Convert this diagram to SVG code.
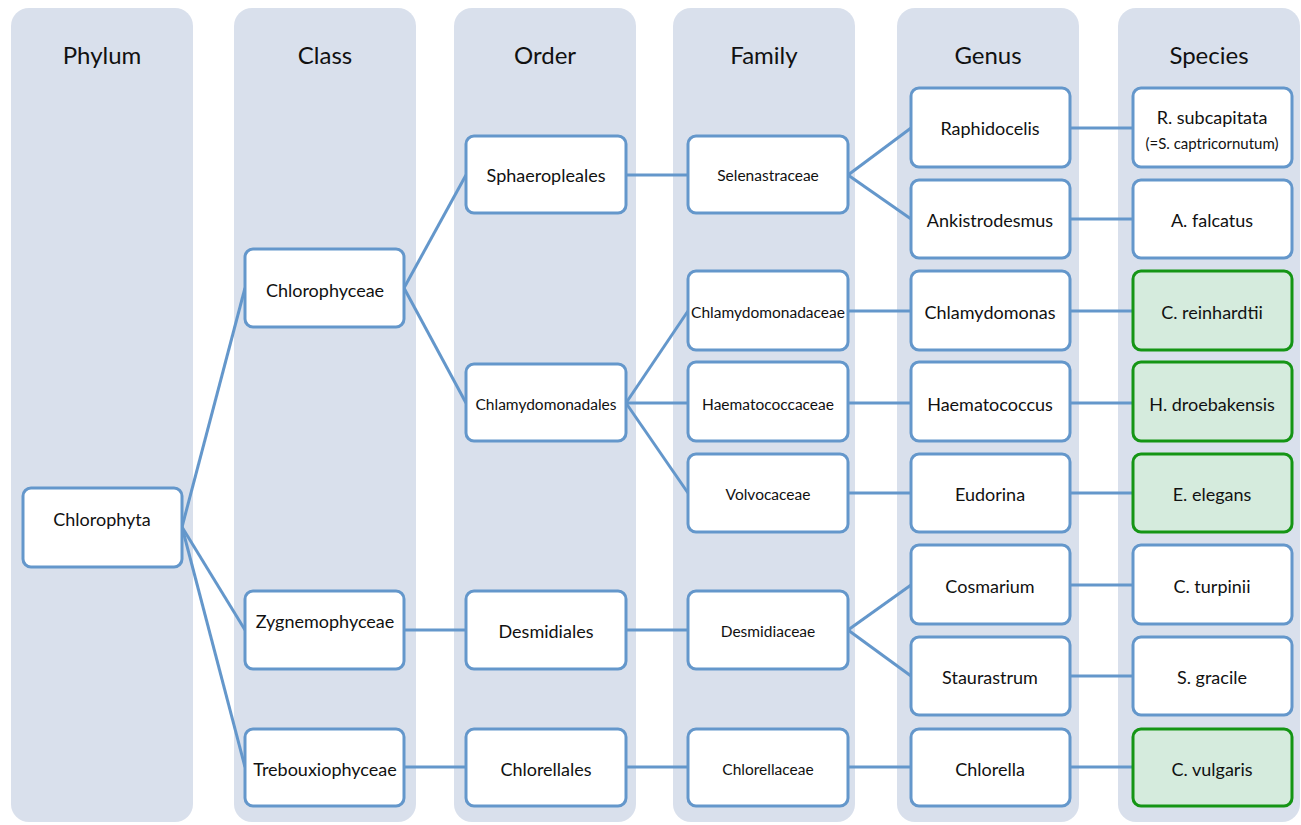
<svg xmlns="http://www.w3.org/2000/svg" width="1301" height="825" viewBox="0 0 1301 825">
<style>
.col{fill:#d9e0ec;}
.hd{font-family:Lato,"Open Sans",sans-serif;font-size:24px;fill:#111;text-anchor:middle;}
.nd rect{fill:#fff;stroke:#6497cb;stroke-width:3;}
.nd.g rect{fill:#d5ebdd;stroke:#159515;}
.nd text{font-family:Lato,"Open Sans",sans-serif;font-size:18px;fill:#111;text-anchor:middle;}
.nd text.s{font-size:15.5px;}
.nd text.xs{font-size:15px;}
.cn line{stroke:#6497cb;stroke-width:3;}
</style>
<g id="columns">
<rect class="col" x="11" y="8" width="182" height="814" rx="18"/>
<rect class="col" x="234" y="8" width="182" height="814" rx="18"/>
<rect class="col" x="454" y="8" width="182" height="814" rx="18"/>
<rect class="col" x="673" y="8" width="182" height="814" rx="18"/>
<rect class="col" x="897" y="8" width="182" height="814" rx="18"/>
<rect class="col" x="1118" y="8" width="182" height="814" rx="18"/>
<text class="hd" x="102" y="64">Phylum</text>
<text class="hd" x="325" y="64">Class</text>
<text class="hd" x="545" y="64">Order</text>
<text class="hd" x="764" y="64">Family</text>
<text class="hd" x="988" y="64">Genus</text>
<text class="hd" x="1209" y="64">Species</text>
</g>
<g class="cn" id="connectors">
<line x1="182" y1="527" x2="245" y2="288"/>
<line x1="182" y1="527" x2="245" y2="630"/>
<line x1="182" y1="527" x2="245" y2="767"/>
<line x1="404" y1="288" x2="466" y2="175"/>
<line x1="404" y1="288" x2="466" y2="403"/>
<line x1="404" y1="630" x2="466" y2="630"/>
<line x1="404" y1="767" x2="466" y2="767"/>
<line x1="626" y1="175" x2="688" y2="175"/>
<line x1="626" y1="403" x2="688" y2="311"/>
<line x1="626" y1="403" x2="688" y2="403"/>
<line x1="626" y1="403" x2="688" y2="493"/>
<line x1="626" y1="630" x2="688" y2="630"/>
<line x1="626" y1="767" x2="688" y2="767"/>
<line x1="848" y1="175" x2="911" y2="128"/>
<line x1="848" y1="175" x2="911" y2="219"/>
<line x1="848" y1="311" x2="911" y2="311"/>
<line x1="848" y1="403" x2="911" y2="403"/>
<line x1="848" y1="493" x2="911" y2="493"/>
<line x1="848" y1="630" x2="911" y2="585"/>
<line x1="848" y1="630" x2="911" y2="676"/>
<line x1="848" y1="767" x2="911" y2="767"/>
<line x1="1070" y1="128" x2="1133" y2="128"/>
<line x1="1070" y1="219" x2="1133" y2="219"/>
<line x1="1070" y1="311" x2="1133" y2="311"/>
<line x1="1070" y1="403" x2="1133" y2="403"/>
<line x1="1070" y1="493" x2="1133" y2="493"/>
<line x1="1070" y1="585" x2="1133" y2="585"/>
<line x1="1070" y1="676" x2="1133" y2="676"/>
<line x1="1070" y1="767" x2="1133" y2="767"/>
</g>
<g class="nd" id="chlorophyta"><rect x="23" y="488" width="159" height="79" rx="8"/><text x="102" y="525.5">Chlorophyta</text></g>
<g class="nd" id="chlorophyceae"><rect x="245" y="249" width="159" height="78" rx="8"/><text x="325" y="296.5">Chlorophyceae</text></g>
<g class="nd" id="zygnemophyceae"><rect x="245" y="591" width="159" height="78" rx="8"/><text x="325" y="627.5">Zygnemophyceae</text></g>
<g class="nd" id="trebouxiophyceae"><rect x="245" y="729" width="159" height="77" rx="8"/><text x="325" y="775.5">Trebouxiophyceae</text></g>
<g class="nd" id="sphaeropleales"><rect x="466" y="136" width="160" height="77" rx="8"/><text x="546" y="181.5">Sphaeropleales</text></g>
<g class="nd" id="chlamydomonadales"><rect x="466" y="364" width="160" height="77" rx="8"/><text class="s" x="546" y="409.5">Chlamydomonadales</text></g>
<g class="nd" id="desmidiales"><rect x="466" y="591" width="160" height="78" rx="8"/><text x="546" y="637.5">Desmidiales</text></g>
<g class="nd" id="chlorellales"><rect x="466" y="729" width="160" height="77" rx="8"/><text x="546" y="775.5">Chlorellales</text></g>
<g class="nd" id="selenastraceae"><rect x="688" y="136" width="160" height="77" rx="8"/><text class="s" x="768" y="180.5">Selenastraceae</text></g>
<g class="nd" id="chlamydomonadaceae"><rect x="688" y="271" width="160" height="79" rx="8"/><text class="s" x="768" y="317.5">Chlamydomonadaceae</text></g>
<g class="nd" id="haematococcaceae"><rect x="688" y="362" width="160" height="79" rx="8"/><text class="s" x="768" y="409.5">Haematococcaceae</text></g>
<g class="nd" id="volvocaceae"><rect x="688" y="454" width="160" height="78" rx="8"/><text class="s" x="768" y="499.5">Volvocaceae</text></g>
<g class="nd" id="desmidiaceae"><rect x="688" y="591" width="160" height="78" rx="8"/><text class="s" x="768" y="636.5">Desmidiaceae</text></g>
<g class="nd" id="chlorellaceae"><rect x="688" y="729" width="160" height="77" rx="8"/><text class="s" x="768" y="774.5">Chlorellaceae</text></g>
<g class="nd" id="raphidocelis"><rect x="911" y="88" width="159" height="79" rx="8"/><text x="990" y="134.5">Raphidocelis</text></g>
<g class="nd" id="ankistrodesmus"><rect x="911" y="180" width="159" height="78" rx="8"/><text x="990" y="226.5">Ankistrodesmus</text></g>
<g class="nd" id="chlamydomonas"><rect x="911" y="271" width="159" height="79" rx="8"/><text x="990" y="318.5">Chlamydomonas</text></g>
<g class="nd" id="haematococcus"><rect x="911" y="362" width="159" height="79" rx="8"/><text x="990" y="410.5">Haematococcus</text></g>
<g class="nd" id="eudorina"><rect x="911" y="454" width="159" height="78" rx="8"/><text x="990" y="500.5">Eudorina</text></g>
<g class="nd" id="cosmarium"><rect x="911" y="545" width="159" height="79" rx="8"/><text x="990" y="592.5">Cosmarium</text></g>
<g class="nd" id="staurastrum"><rect x="911" y="637" width="159" height="78" rx="8"/><text x="990" y="683.5">Staurastrum</text></g>
<g class="nd" id="chlorella"><rect x="911" y="729" width="159" height="77" rx="8"/><text x="990" y="775.5">Chlorella</text></g>
<g class="nd" id="r-subcapitata"><rect x="1133" y="88" width="159" height="79" rx="8"/><text x="1212" y="123.5">R. subcapitata</text><text class="xs" x="1212" y="148.5">(=S. captricornutum)</text></g>
<g class="nd" id="a-falcatus"><rect x="1133" y="180" width="159" height="78" rx="8"/><text x="1212" y="226.5">A. falcatus</text></g>
<g class="nd g" id="c-reinhardtii"><rect x="1133" y="271" width="159" height="79" rx="8"/><text x="1212" y="318.5">C. reinhardtii</text></g>
<g class="nd g" id="h-droebakensis"><rect x="1133" y="362" width="159" height="79" rx="8"/><text x="1212" y="410.5">H. droebakensis</text></g>
<g class="nd g" id="e-elegans"><rect x="1133" y="454" width="159" height="78" rx="8"/><text x="1212" y="500.5">E. elegans</text></g>
<g class="nd" id="c-turpinii"><rect x="1133" y="545" width="159" height="79" rx="8"/><text x="1212" y="592.5">C. turpinii</text></g>
<g class="nd" id="s-gracile"><rect x="1133" y="637" width="159" height="78" rx="8"/><text x="1212" y="683.5">S. gracile</text></g>
<g class="nd g" id="c-vulgaris"><rect x="1133" y="729" width="159" height="77" rx="8"/><text x="1212" y="775.5">C. vulgaris</text></g>
</svg>
